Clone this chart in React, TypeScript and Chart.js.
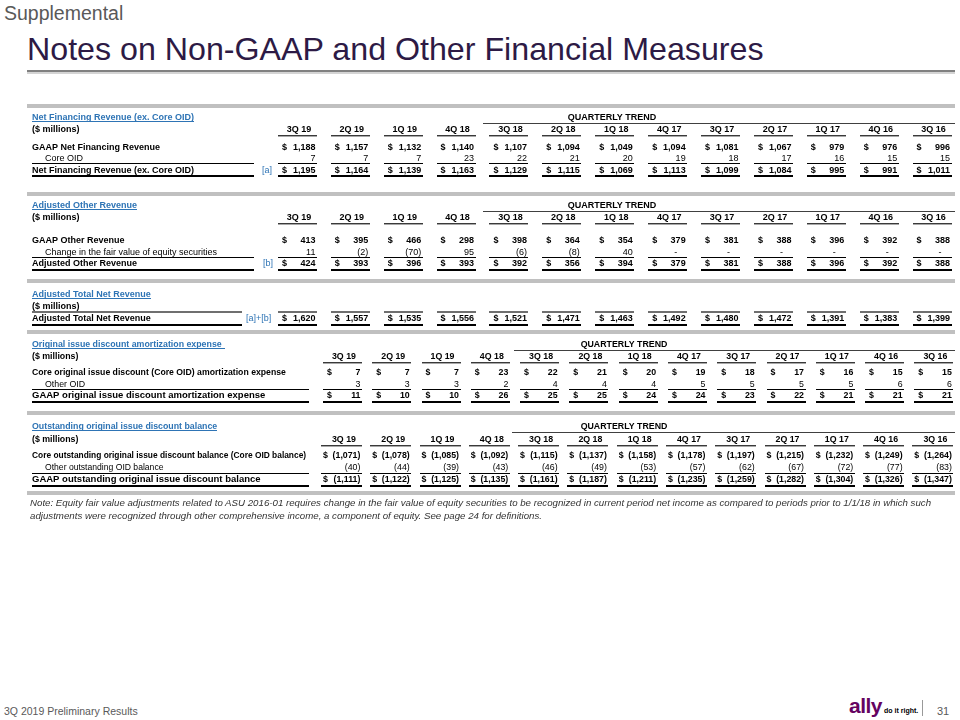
import React, { useEffect, useRef } from 'react';
import { Chart, registerables } from 'chart.js';

Chart.register(...registerables);

// ---------- DATA ----------
const quarters = ['3Q 19', '2Q 19', '1Q 19', '4Q 18', '3Q 18', '2Q 18', '1Q 18', '4Q 17', '3Q 17', '2Q 17', '1Q 17', '4Q 16', '3Q 16'];

const gaapNetFinancingRevenue = [1188, 1157, 1132, 1140, 1107, 1094, 1049, 1094, 1081, 1067, 979, 976, 996];
const coreOid = [7, 7, 7, 23, 22, 21, 20, 19, 18, 17, 16, 15, 15];
const netFinancingRevenueExCoreOid = [1195, 1164, 1139, 1163, 1129, 1115, 1069, 1113, 1099, 1084, 995, 991, 1011];

const gaapOtherRevenue = [413, 395, 466, 298, 398, 364, 354, 379, 381, 388, 396, 392, 388];
const equityFairValueChange = [11, -2, -70, 95, -6, -8, 40, 0, 0, 0, 0, 0, 0];
const adjustedOtherRevenue = [424, 393, 396, 393, 392, 356, 394, 379, 381, 388, 396, 392, 388];

const adjustedTotalNetRevenue = [1620, 1557, 1535, 1556, 1521, 1471, 1463, 1492, 1480, 1472, 1391, 1383, 1399];

const coreOidAmortization = [7, 7, 7, 23, 22, 21, 20, 19, 18, 17, 16, 15, 15];
const otherOidAmortization = [3, 3, 3, 2, 4, 4, 4, 5, 5, 5, 5, 6, 6];
const gaapOidAmortization = [11, 10, 10, 26, 25, 25, 24, 24, 23, 22, 21, 21, 21];

const coreOidBalance = [-1071, -1078, -1085, -1092, -1115, -1137, -1158, -1178, -1197, -1215, -1232, -1249, -1264];
const otherOidBalance = [-40, -44, -39, -43, -46, -49, -53, -57, -62, -67, -72, -77, -83];
const gaapOidBalance = [-1111, -1122, -1125, -1135, -1161, -1187, -1211, -1235, -1259, -1282, -1304, -1326, -1347];

// ---------- STYLE / LAYOUT ----------
const FONT_FAMILY = '"Liberation Sans", Arial, Helvetica, sans-serif';
const LINK = '#2e74b5';
const BAR = '#c0c0c0';
const RIGHT_EDGE = 955;

type Kind = 'first' | 'sub' | 'total' | 'single';
type Row = { label: string; values: number[]; kind: Kind };
type Spec = {
  title: string;
  titleLineExtra: number;
  quarterly: boolean;
  quarterlyX: number;
  headers: boolean;
  ref: string;
  refX: number;
  rows: Row[];
  top: number;
  height: number;
  barY: number;
  bottomBarY?: number;
  titleY: number;
  headerY: number;
  firstRowY: number;
  rowH: number;
  col0: number;
  colStep: number;
  cellLeft: number;
  dollarDx: number;
  labelLineEnd: number;
  fontSize: number;
  labelSizes: number[];
};

const specs: Spec[] = [
  {
    title: 'Net Financing Revenue (ex. Core OID)', titleLineExtra: 0, quarterly: true, quarterlyX: 612, headers: true,
    ref: '[a]', refX: 262,
    rows: [
      { label: 'GAAP Net Financing Revenue', values: gaapNetFinancingRevenue, kind: 'first' },
      { label: 'Core OID', values: coreOid, kind: 'sub' },
      { label: 'Net Financing Revenue (ex. Core OID)', values: netFinancingRevenueExCoreOid, kind: 'total' },
    ],
    top: 100, height: 90, barY: 104, titleY: 117, headerY: 129, firstRowY: 146.5, rowH: 11.5,
    col0: 299, colStep: 53, cellLeft: -21, dollarDx: -17, labelLineEnd: 254, fontSize: 9, labelSizes: [9, 9, 9],
  },
  {
    title: 'Adjusted Other Revenue', titleLineExtra: 0, quarterly: true, quarterlyX: 612, headers: true,
    ref: '[b]', refX: 263,
    rows: [
      { label: 'GAAP Other Revenue', values: gaapOtherRevenue, kind: 'first' },
      { label: 'Change in the fair value of equity securities', values: equityFairValueChange, kind: 'sub' },
      { label: 'Adjusted Other Revenue', values: adjustedOtherRevenue, kind: 'total' },
    ],
    top: 190, height: 87, barY: 192, titleY: 205, headerY: 217, firstRowY: 240, rowH: 11.5,
    col0: 299, colStep: 53, cellLeft: -21, dollarDx: -17, labelLineEnd: 254, fontSize: 9, labelSizes: [9, 9, 9],
  },
  {
    title: 'Adjusted Total Net Revenue', titleLineExtra: 0, quarterly: false, quarterlyX: 0, headers: false,
    ref: '[a]+[b]', refX: 246,
    rows: [{ label: 'Adjusted Total Net Revenue', values: adjustedTotalNetRevenue, kind: 'single' }],
    top: 277, height: 51, barY: 279, titleY: 294, headerY: 306, firstRowY: 318, rowH: 12,
    col0: 299, colStep: 53, cellLeft: -21, dollarDx: -17, labelLineEnd: 242, fontSize: 9, labelSizes: [9],
  },
  {
    title: 'Original issue discount amortization expense', titleLineExtra: 3, quarterly: true, quarterlyX: 624, headers: true,
    ref: '', refX: 0,
    rows: [
      { label: 'Core original issue discount (Core OID) amortization expense', values: coreOidAmortization, kind: 'first' },
      { label: 'Other OID', values: otherOidAmortization, kind: 'sub' },
      { label: 'GAAP original issue discount amortization expense', values: gaapOidAmortization, kind: 'total' },
    ],
    top: 328, height: 81, barY: 330, titleY: 344, headerY: 356, firstRowY: 372, rowH: 11.5,
    col0: 344, colStep: 49.4, cellLeft: -21, dollarDx: -17, labelLineEnd: 309, fontSize: 8.8, labelSizes: [8.7, 8.8, 9.5],
  },
  {
    title: 'Outstanding original issue discount balance', titleLineExtra: 0, quarterly: true, quarterlyX: 624, headers: true,
    ref: '', refX: 0,
    rows: [
      { label: 'Core outstanding original issue discount balance (Core OID balance)', values: coreOidBalance, kind: 'first' },
      { label: 'Other outstanding OID balance', values: otherOidBalance, kind: 'sub' },
      { label: 'GAAP outstanding original issue discount balance', values: gaapOidBalance, kind: 'total' },
    ],
    top: 409, height: 88, barY: 411, bottomBarY: 491, titleY: 426, headerY: 439, firstRowY: 455, rowH: 12,
    col0: 344, colStep: 49.4, cellLeft: -23, dollarDx: -21, labelLineEnd: 309, fontSize: 8.8, labelSizes: [8.4, 8.6, 9.5],
  },
];

function fmtValue(v: number): string {
  const s = Math.abs(v).toLocaleString('en-US');
  return v < 0 ? `(${s})` : s;
}

function makeTablePlugin(spec: Spec) {
  return {
    id: 'tableCells',
    afterDraw(chart: any) {
      const ctx: CanvasRenderingContext2D = chart.ctx;
      const Y = (py: number) => py - spec.top;
      const fs = spec.fontSize;
      const font = (b: boolean, size: number = fs) => `${b ? 'bold ' : ''}${size}px ${FONT_FAMILY}`;
      const base = (y: number) => y + fs * 0.36;
      const hline = (x1: number, x2: number, y: number, h: number, color: string) => {
        ctx.fillStyle = color;
        ctx.fillRect(Math.round(x1), Math.round(y), Math.round(x2 - x1), h);
      };
      const xs = chart.scales.x;
      const cells = quarters.map((_, i) => {
        const c = xs.getPixelForValue(i);
        return { c, L: c + spec.cellLeft, R: c + 18 };
      });
      ctx.save();
      // separator bars
      hline(27, RIGHT_EDGE, Y(spec.barY), 4, BAR);
      if (spec.bottomBarY) hline(27, RIGHT_EDGE, Y(spec.bottomBarY), 4, BAR);

      // section title (link style)
      ctx.font = font(true);
      ctx.textAlign = 'left';
      ctx.textBaseline = 'alphabetic';
      ctx.fillStyle = LINK;
      const ty = base(Y(spec.titleY));
      ctx.fillText(spec.title, 32, ty);
      const tw = ctx.measureText(spec.title).width + spec.titleLineExtra;
      hline(32, 32 + tw, ty + 1, 1, LINK);

      // quarterly trend
      if (spec.quarterly) {
        ctx.fillStyle = '#000';
        ctx.textAlign = 'center';
        ctx.fillText('QUARTERLY TREND', spec.quarterlyX, ty);
        hline(cells[4].L - 6, RIGHT_EDGE, Y(spec.titleY) + 5.5, 1, '#404040');
      }

      // ($ millions) + headers
      ctx.textAlign = 'left';
      ctx.fillStyle = '#000';
      const hy = base(Y(spec.headerY));
      ctx.fillText('($ millions)', 32, hy);
      if (spec.headers) {
        ctx.textAlign = 'center';
        quarters.forEach((q, i) => {
          ctx.fillStyle = '#000';
          ctx.fillText(q, cells[i].c, hy);
          hline(cells[i].L, cells[i].R, Y(spec.headerY) + 5.5, 1, '#3a3a3a');
          hline(cells[i].L, cells[i].R, Y(spec.headerY) + 6.5, 1, '#a8a8a8');
        });
      }

      // rows
      spec.rows.forEach((row, ri) => {
        const meta = chart.getDatasetMeta(ri);
        const y = meta.data[0].y;
        const bold = row.kind !== 'sub';
        ctx.font = font(bold, spec.labelSizes[ri]);
        ctx.fillStyle = '#000';
        ctx.textAlign = 'left';
        ctx.fillText(row.label, row.kind === 'sub' ? 45 : 32, base(y));
        if (row.kind === 'total') {
          hline(32, spec.labelLineEnd, y - 6.5, 1, '#000');
          hline(32, spec.labelLineEnd, y + 5.5, 2, '#000');
        }
        if (row.kind === 'single') {
          hline(32, spec.labelLineEnd, y - 7, 2, '#6f6f6f');
          hline(32, spec.labelLineEnd, y + 5.5, 2, '#000');
        }
        meta.data.forEach((el: any, i: number) => {
          const v = row.values[i];
          const x = el.x;
          const L = x + spec.cellLeft;
          const R = x + 18;
          ctx.font = font(bold);
          ctx.fillStyle = '#000';
          if (bold) {
            ctx.textAlign = 'left';
            ctx.fillText('$', x + spec.dollarDx, base(el.y));
          }
          ctx.textAlign = 'right';
          if (v === 0) ctx.fillText('-', x + 8, base(el.y));
          else ctx.fillText(fmtValue(v), x + 16.5, base(el.y));
          if (row.kind === 'total') {
            hline(L, R, el.y - 6.5, 1, '#000');
            hline(L, R, el.y + 5.5, 2, '#000');
          }
          if (row.kind === 'single') {
            hline(L, R, el.y - 7, 2, '#6f6f6f');
            hline(L, R, el.y + 5.5, 2, '#000');
          }
        });
        if (ri === spec.rows.length - 1 && spec.ref) {
          ctx.font = font(false);
          ctx.fillStyle = LINK;
          ctx.textAlign = 'left';
          ctx.fillText(spec.ref, spec.refX, base(y));
        }
      });
      ctx.restore();
    },
  };
}

function TableChart({ spec }: { spec: Spec }) {
  const ref = useRef<HTMLCanvasElement>(null);
  useEffect(() => {
    const canvas = ref.current!;
    const c0 = spec.col0;
    const cLast = c0 + spec.colStep * (quarters.length - 1);
    const n = spec.rows.length;
    const chart = new Chart(canvas, {
      type: 'line',
      data: {
        labels: quarters,
        datasets: spec.rows.map((r) => ({
          label: r.label,
          data: r.values.map((_v, i) => ({ x: quarters[i], y: r.label })),
          showLine: false,
          pointRadius: 0,
          pointHoverRadius: 0,
        })),
      },
      options: {
        responsive: false,
        animation: false,
        devicePixelRatio: 1,
        events: [],
        layout: {
          padding: {
            left: c0 - spec.colStep / 2,
            right: 960 - (cLast + spec.colStep / 2),
            top: spec.firstRowY - spec.rowH / 2 - spec.top,
            bottom: spec.top + spec.height - (spec.firstRowY + spec.rowH * (n - 0.5)),
          },
        },
        plugins: { legend: { display: false }, tooltip: { enabled: false }, title: { display: false } },
        scales: {
          x: { type: 'category', labels: quarters, offset: true, display: false },
          y: { type: 'category', labels: spec.rows.map((r) => r.label), offset: true, display: false },
        },
      } as any,
      plugins: [makeTablePlugin(spec)],
    });
    return () => chart.destroy();
  }, [spec]);
  return (
    <canvas
      ref={ref}
      width={960}
      height={spec.height}
      style={{ position: 'absolute', left: 0, top: spec.top, width: 960, height: spec.height }}
    />
  );
}

const abs = (l: number, t: number, extra: React.CSSProperties = {}): React.CSSProperties => ({
  position: 'absolute', left: l, top: t, whiteSpace: 'nowrap', fontFamily: FONT_FAMILY, margin: 0, ...extra,
});

export default function App() {
  return (
    <div style={{ position: 'absolute', left: 0, top: 0, width: 960, height: 720, background: '#fff', overflow: 'hidden' }}>
      <div style={abs(4, 3.5, { fontSize: 19.5, lineHeight: '19px', color: '#595959' })}>Supplemental</div>
      <div style={abs(27, 33, { fontSize: 32.2, lineHeight: '32px', color: '#2d1a45' })}>Notes on Non-GAAP and Other Financial Measures</div>
      <div style={abs(27, 70, { width: RIGHT_EDGE - 27, height: 2, background: '#808080' })} />
      <div style={abs(27, 72, { width: RIGHT_EDGE - 27, height: 2, background: '#d4d4d4' })} />

      {specs.map((s, i) => (
        <TableChart key={i} spec={s} />
      ))}

      <div style={abs(30, 496, { fontSize: 9.7, lineHeight: '13px', fontStyle: 'italic', color: '#333' })}>
        Note: Equity fair value adjustments related to ASU 2016-01 requires change in the fair value of equity securities to be recognized in current period net income as compared to periods prior to 1/1/18 in which such
        <br />
        adjustments were recognized through other comprehensive income, a component of equity. See page 24 for definitions.
      </div>

      <div style={abs(4, 706, { fontSize: 10.5, lineHeight: '11px', color: '#595959' })}>3Q 2019 Preliminary Results</div>
      <div style={abs(849, 695, { fontSize: 21, lineHeight: '21px', fontWeight: 'bold', color: '#650360', letterSpacing: '-0.5px' })}>ally</div>
      <div style={abs(884, 706.5, { fontSize: 7, lineHeight: '8px', fontWeight: 'bold', color: '#000' })}>do it right.</div>
      <div style={abs(922, 700, { width: 1, height: 16, background: '#999' })} />
      <div style={abs(937, 705.7, { fontSize: 11, lineHeight: '11px', color: '#595959' })}>31</div>
    </div>
  );
}
